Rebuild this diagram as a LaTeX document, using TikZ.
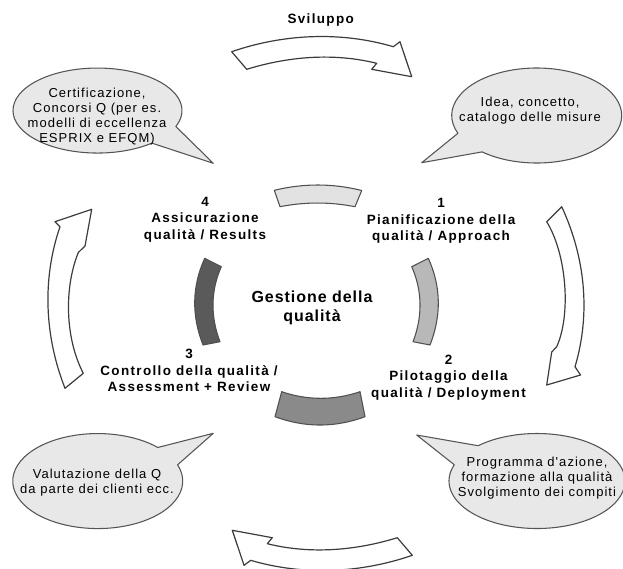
\documentclass[tikz,border=0pt]{standalone}
\usepackage{fontspec}
\setmainfont{Liberation Sans}
\newfontfamily\labelfont{Liberation Sans}[LetterSpace=10]
\newfontfamily\centerfont{Liberation Sans}[LetterSpace=6]
\newfontfamily\bubblefont{Liberation Sans}[LetterSpace=8]
\usepackage{tikz}

\begin{document}
\begin{tikzpicture}[x=0.75pt,y=0.75pt,yscale=-1,xscale=1,
  bigarrow/.style={color={rgb, 255:red, 60; green, 60; blue, 60 }, fill=white, line width=0.9, line join=round},
  ringpart/.style={color={rgb, 255:red, 80; green, 80; blue, 80 }, line width=0.8, line join=round},
  bubble/.style={color={rgb, 255:red, 85; green, 85; blue, 85 }, fill={rgb, 255:red, 232; green, 232; blue, 232 }, line width=0.8, line join=round},
  steplabel/.style={font=\labelfont\bfseries\fontsize{10.1}{12.4}\selectfont, align=center, inner sep=0.75pt},
  centerlabel/.style={font=\centerfont\bfseries\fontsize{12}{14.25}\selectfont, align=center, inner sep=0.75pt},
  bubbletext/.style={font=\bubblefont\fontsize{9.75}{11.4}\selectfont, align=center, inner sep=0.75pt}
]
\useasboundingbox (0,0) rectangle (623,568);
\clip (0,0) rectangle (623,568);

%Shape: Curved Arrow (top, Sviluppo)
\draw[bigarrow] (231.7,51.7) .. controls (283.5,33.8) and (340.7,31.2) .. (393.3,46.7) -- (400,41.7) -- (411.7,76.7) -- (371.7,69.3) -- (376.7,63.3) .. controls (333.8,52.7) and (289,56.3) .. (246.7,69.3) -- cycle ;
%Shape: Curved Arrow (right)
\draw[bigarrow] (561.7,206.7) .. controls (585,257) and (591,313) .. (575,366.7) -- (580.5,375) -- (546.7,385) -- (551.7,352) -- (556.7,346.7) .. controls (571,315) and (567,255) .. (546.7,221.7) -- cycle ;
%Shape: Curved Arrow (bottom)
\draw[bigarrow] (412.3,555.3) .. controls (360.5,573.2) and (303.3,575.8) .. (250.7,560.3) -- (244,565.3) -- (232.3,530.3) -- (272.3,537.7) -- (267.3,543.7) .. controls (310.2,554.3) and (355,550.7) .. (397.3,537.7) -- cycle ;
%Shape: Curved Arrow (left)
\draw[bigarrow] (65,388.3) .. controls (44.5,336) and (42,279) .. (60,226.7) -- (55,221.7) -- (91.7,209.3) -- (85,246) -- (78.3,252.5) .. controls (64,288) and (65,338) .. (83.3,373.3) -- cycle ;

%Shape: Block Arc (top, light)
\draw[ringpart, fill={rgb, 255:red, 226; green, 226; blue, 226 }] (274.3,190.3) .. controls (303.5,183.2) and (332.6,183.2) .. (361.7,190.5) -- (355,206.7) .. controls (330,201.8) and (305,201.8) .. (280,206.7) -- cycle ;
%Shape: Block Arc (right)
\draw[ringpart, fill={rgb, 255:red, 184; green, 184; blue, 184 }] (428.3,258.3) .. controls (441.35,287) and (441.35,316) .. (430,345) -- (413,341.7) .. controls (422.55,317) and (422.55,291) .. (411.7,266.7) -- cycle ;
%Shape: Block Arc (bottom)
\draw[ringpart, fill={rgb, 255:red, 138; green, 138; blue, 138 }] (275,416.7) .. controls (305,427.8) and (335,427.8) .. (365,416.7) -- (360,391.7) .. controls (334,400.5) and (307.7,400.5) .. (281.7,391.7) -- cycle ;
%Shape: Block Arc (left, dark)
\draw[ringpart, fill={rgb, 255:red, 90; green, 90; blue, 90 }] (204.7,258.3) .. controls (191.65,287) and (191.65,316) .. (203,345) -- (220,341.7) .. controls (210.45,317) and (210.45,291) .. (221.3,266.7) -- cycle ;

%Shape: Speech Bubble (top left)
\draw[bubble] (151.8,143.1) arc[start angle=50, end angle=382, x radius=84.5, y radius=42.5] -- (213.3,163.3) -- cycle ;
%Shape: Speech Bubble (top right)
\draw[bubble] (457.9,133.3) arc[start angle=158, end angle=490, x radius=85, y radius=47.5] -- (421.7,162.7) -- cycle ;
%Shape: Speech Bubble (bottom left)
\draw[bubble] (177.6,464.8) arc[start angle=340, end angle=675, x radius=85, y radius=47.5] -- (213.3,433.3) -- cycle ;
%Shape: Speech Bubble (bottom right)
\draw[bubble] (478.1,445.7) arc[start angle=228, end angle=560, x radius=88, y radius=47.5] -- (416.7,435) -- cycle ;

% Text Node
\draw (320.7,20) node[steplabel] (svil) {Sviluppo};
% Text Node
\draw (441,221) node[steplabel] (plan) {1\\Pianificazione della\\qualità / Approach};
% Text Node
\draw (448.5,377.6) node[steplabel] (pilot) {2\\Pilotaggio della\\qualità / Deployment};
% Text Node
\draw (189,370.5) node[steplabel] (check) {3\\Controllo della qualità /\\Assessment + Review};
% Text Node
\draw (205,219.5) node[steplabel] (assur) {4\\Assicurazione\\qualità / Results};
% Text Node
\draw (312,307.5) node[centerlabel] (gest) {Gestione della\\qualità};
% Text Node
\draw (97,116.5) node[bubbletext] (certif) {Certificazione,\\Concorsi Q (per es.\\modelli di eccellenza\\ESPRIX e EFQM)};
% Text Node
\draw (530,110.5) node[bubbletext] (idea) {Idea, concetto,\\catalogo delle misure};
% Text Node
\draw (97,482.5) node[bubbletext] (valut) {Valutazione della Q\\da parte dei clienti ecc.};
% Text Node
\draw (537,478) node[bubbletext] (progr) {Programma d'azione,\\formazione alla qualità\\Svolgimento dei compiti};

\end{tikzpicture}
\end{document}
